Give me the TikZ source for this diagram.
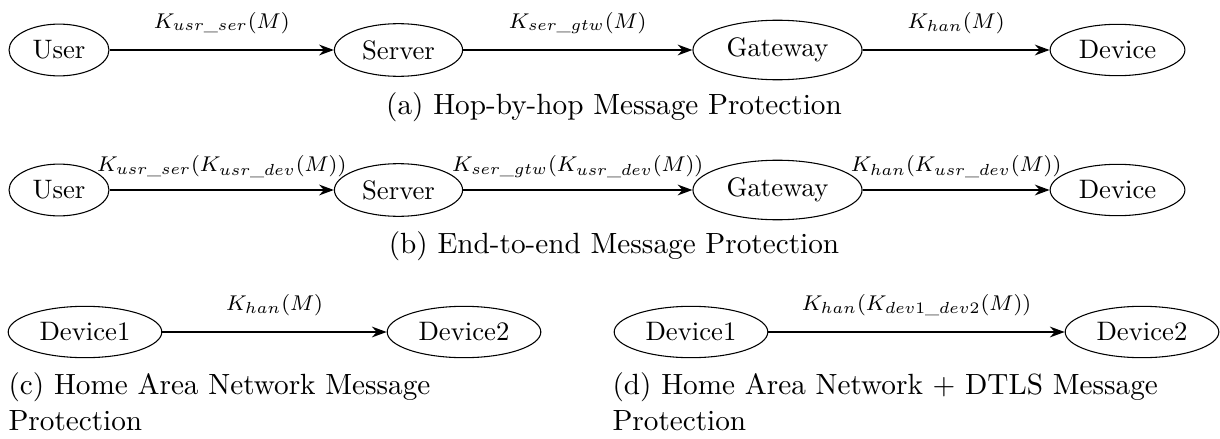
\documentclass[tikz,border=0pt]{standalone}
\usepackage{amsmath}
\usetikzlibrary{shapes.geometric,arrows.meta}
% underscore set at the size of the surrounding subscript
\newcommand{\subus}{\text{\_}}
\tikzset{
  party/.style={ellipse, draw, line width=0.4pt, inner sep=0.3333em, font=\fontsize{10}{12}\selectfont},
  msg/.style={thick, -{Stealth[length=5.5pt,width=4pt]}},
  keylbl/.style={midway, anchor=base, inner sep=0, yshift=#1, font=\fontsize{8.4}{10}\selectfont},
  keylbl/.default=8.2pt,
  subcap/.style={inner sep=0, font=\fontsize{10.95}{13.6}\selectfont}
}
\begin{document}
\begin{tikzpicture}[x=0.3745pt, y=-0.3745pt]
  \useasboundingbox (0,0) rectangle (1220,439);

  % (a) hop-by-hop
  \node[party] (ua) at (59,50) {User};
  \node[party] (sa) at (398.5,50) {Server};
  \node[party] (ga) at (777.5,50) {Gateway};
  \node[party] (da) at (1117.5,50) {Device};
  \draw[msg] (ua) -- node[keylbl] {$K_{usr\subus ser}(M)$} (sa);
  \draw[msg] (sa) -- node[keylbl] {$K_{ser\subus gtw}(M)$} (ga);
  \draw[msg] (ga) -- node[keylbl] {$K_{han}(M)$} (da);
  \node[subcap, anchor=base] (capa) at (614,114) {(a) Hop-by-hop Message Protection};

  % (b) end-to-end
  \node[party] (ub) at (59,190) {User};
  \node[party] (sb) at (398.5,190) {Server};
  \node[party] (gb) at (777.5,190) {Gateway};
  \node[party] (db) at (1117.5,190) {Device};
  \draw[msg] (ub) -- node[keylbl=6.9pt] {$K_{usr\subus ser}(K_{usr\subus dev}(M))$} (sb);
  \draw[msg] (sb) -- node[keylbl=6.9pt] {$K_{ser\subus gtw}(K_{usr\subus dev}(M))$} (gb);
  \draw[msg] (gb) -- node[keylbl=6.9pt] {$K_{han}(K_{usr\subus dev}(M))$} (db);
  \node[subcap, anchor=base] (capb) at (614,253) {(b) End-to-end Message Protection};

  % (c) home area network
  \node[party] (c1) at (85,332) {Device1};
  \node[party] (c2) at (464,332) {Device2};
  \draw[msg] (c1) -- node[keylbl] {$K_{han}(M)$} (c2);
  \node[subcap, anchor=base west] (capc1) at (8,394) {(c) Home Area Network Message};
  \node[subcap, anchor=base west] (capc2) at (8,430) {Protection};

  % (d) home area network + DTLS
  \node[party] (d1) at (691,332) {Device1};
  \node[party] (d2) at (1142,332) {Device2};
  \draw[msg] (d1) -- node[keylbl] {$K_{han}(K_{dev1\subus dev2}(M))$} (d2);
  \node[subcap, anchor=base west] (capd1) at (612,394) {(d) Home Area Network + DTLS Message};
  \node[subcap, anchor=base west] (capd2) at (612,430) {Protection};
\end{tikzpicture}
\end{document}
